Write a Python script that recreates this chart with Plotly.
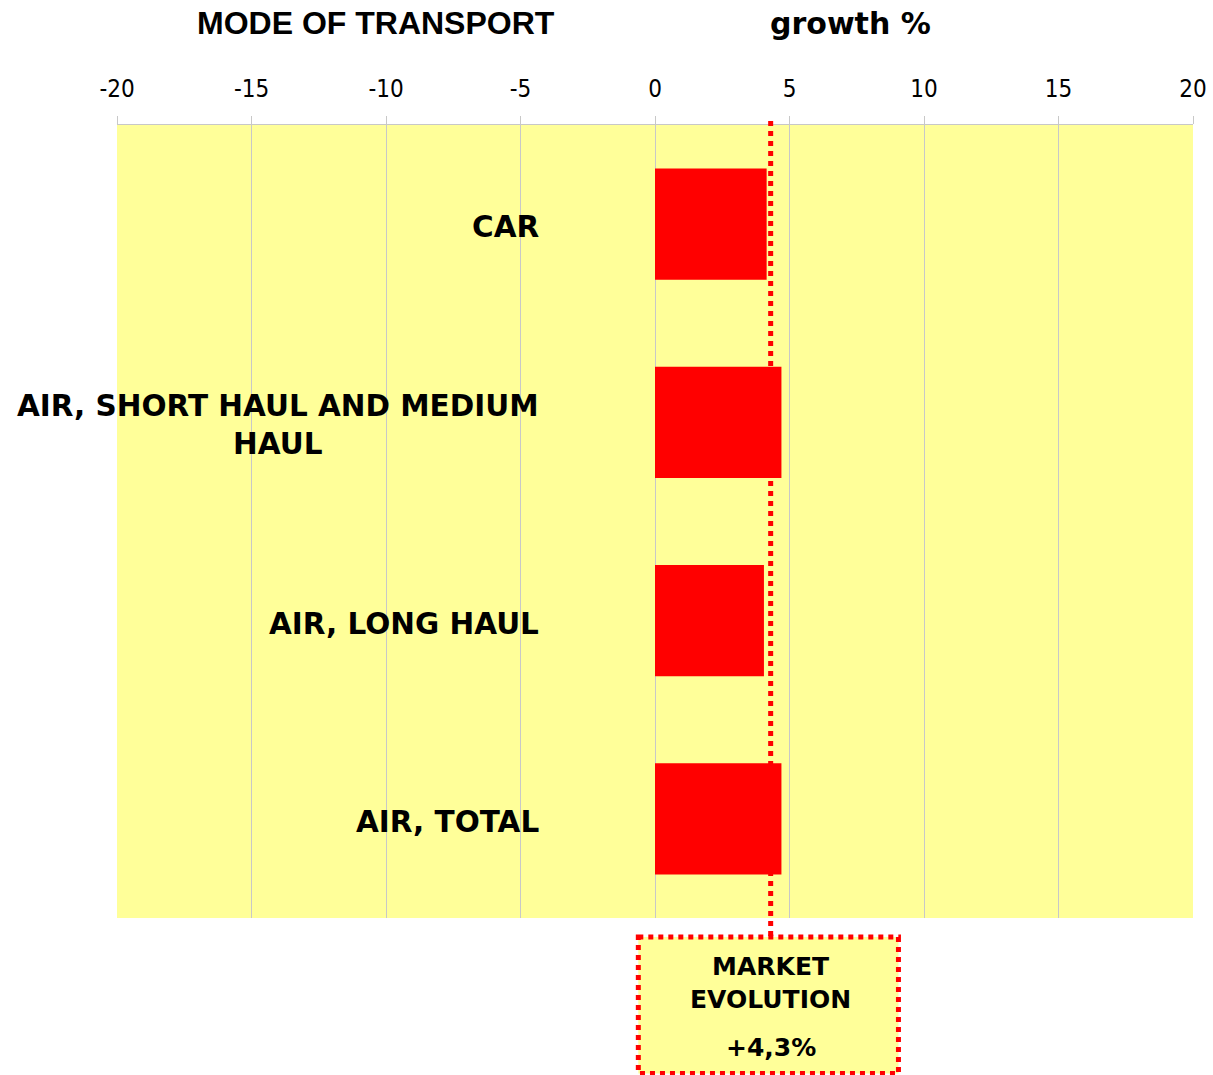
import plotly.graph_objects as go

# Growth by mode of transport (%)
modes = ["CAR", "AIR, SHORT HAUL AND MEDIUM<br>HAUL", "AIR, LONG HAUL", "AIR, TOTAL"]
growth = [4.15, 4.7, 4.05, 4.7]
market_growth = 4.3
market_title = "MARKET<br>EVOLUTION"
market_value = "+4,3%"
tick_vals = [-20, -15, -10, -5, 0, 5, 10, 15, 20]

YELLOW = "#FFFF99"
RED = "#FF0000"
GRID = "#C8C8C8"
LABEL_FONT = "DejaVu Sans"
TICK_FONT = "DejaVu Sans Condensed, DejaVu Sans"

idx = list(range(len(modes)))

fig = go.Figure()
fig.add_trace(go.Bar(
    x=growth, y=idx, orientation="h",
    marker=dict(color=RED, line=dict(width=0)),
    width=0.56, showlegend=False, hoverinfo="x",
))

# category labels drawn inside the plot, right-aligned left of zero
for i, m in enumerate(modes):
    fig.add_annotation(
        x=-4.25, y=i, xref="x", yref="y", text=f"<b>{m}</b>",
        showarrow=False, xanchor="right", yanchor="middle", align="center",
        yshift=-3,
        font=dict(family=LABEL_FONT, size=29.5, color="black"),
    )

# market evolution reference line and callout box
fig.add_shape(type="line", xref="x", yref="paper",
              x0=market_growth, x1=market_growth, y0=1.005, y1=-0.024,
              line=dict(color=RED, width=5, dash="5px,5px"))
fig.add_shape(type="rect", xref="x", yref="paper",
              x0=-0.62, x1=9.05, y0=-0.024, y1=-0.196,
              fillcolor=YELLOW, line=dict(color=RED, width=5, dash="5px,5px"))
fig.add_annotation(
    x=market_growth, y=-0.082, xref="x", yref="paper", text=f"<b>{market_title}</b>",
    showarrow=False, xanchor="center", yanchor="middle", align="center",
    font=dict(family=LABEL_FONT, size=25, color="black"),
)
fig.add_annotation(
    x=market_growth, y=-0.163, xref="x", yref="paper", text=f"<b>{market_value}</b>",
    showarrow=False, xanchor="center", yanchor="middle", align="center",
    font=dict(family=LABEL_FONT, size=25, color="black"),
)

# column headers
fig.add_annotation(
    x=0.2405, y=1.1286, xref="paper", yref="paper", text="<b>MODE OF TRANSPORT</b>",
    showarrow=False, xanchor="center", yanchor="middle",
    font=dict(family="Liberation Sans", size=32, color="black"),
)
fig.add_annotation(
    x=0.682, y=1.1286, xref="paper", yref="paper", text="<b>growth %</b>",
    showarrow=False, xanchor="center", yanchor="middle",
    font=dict(family=LABEL_FONT, size=30, color="black"),
)

fig.update_xaxes(
    range=[-20, 20], side="top", tickvals=tick_vals,
    ticktext=[str(v) for v in tick_vals],
    showgrid=True, gridcolor=GRID, gridwidth=1, zeroline=False,
    ticks="outside", ticklen=8, tickcolor=GRID, tickwidth=1,
    showline=True, linecolor=GRID, linewidth=1,
    tickfont=dict(family=TICK_FONT, size=24, color="black"),
    ticklabelstandoff=9, automargin=False,
)
fig.update_yaxes(
    range=[3.5, -0.5], showticklabels=False, showgrid=False, zeroline=False,
    showline=False, ticks="", automargin=False,
)

fig.update_layout(
    width=1213, height=1075,
    margin=dict(l=117, r=20, t=125, b=157),
    paper_bgcolor="white", plot_bgcolor=YELLOW,
    bargap=0.44,
)

fig.write_html("out.html")
